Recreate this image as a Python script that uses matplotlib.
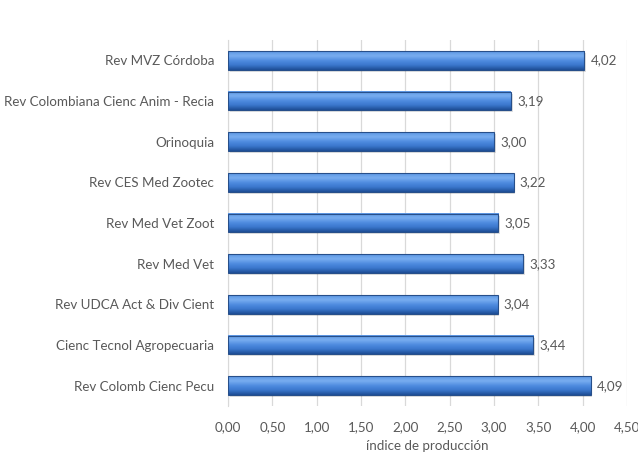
import numpy as np
import matplotlib.pyplot as plt
from matplotlib.colors import LinearSegmentedColormap

revistas = ['Rev Colomb Cienc Pecu', 'Cienc Tecnol Agropecuaria', 'Rev UDCA Act & Div Cient',
            'Rev Med Vet', 'Rev Med Vet Zoot', 'Rev CES Med Zootec', 'Orinoquia',
            'Rev Colombiana Cienc Anim - Recia', 'Rev MVZ Córdoba']
indice = [4.09, 3.44, 3.04, 3.33, 3.05, 3.22, 3.00, 3.19, 4.02]
xticks = [0, 0.5, 1.0, 1.5, 2.0, 2.5, 3.0, 3.5, 4.0, 4.5]

plt.rcParams['font.family'] = ['Lato', 'DejaVu Sans']
gris = '#595959'
fs = 9.6

fig = plt.figure(figsize=(6.38, 4.53), dpi=100)
ax = fig.add_axes([228 / 638, 1 - 406 / 453, (627 - 228) / 638, (406 - 40) / 453])

# degradado vertical del "bisel" de cada barra
cmap = LinearSegmentedColormap.from_list('bisel', ['#1d4d94', '#3a76cc', '#4f8ce0', '#79aef0', '#5d97e4'])
grad = np.linspace(0, 1, 64).reshape(-1, 1)
h = 0.46
for i, v in enumerate(indice):
    # sombra
    ax.add_patch(plt.Rectangle((0.02, i - h / 2 - 0.05), v, h, color='#000000', alpha=0.12, lw=0, zorder=2))
    ax.imshow(grad, cmap=cmap, aspect='auto', extent=(0, v, i - h / 2, i + h / 2),
              origin='lower', zorder=3, interpolation='bicubic')
    ax.add_patch(plt.Rectangle((0, i - h / 2), v, h, fill=False, ec='#274f8a', lw=0.8, zorder=4))
    ax.text(v + 0.07, i, f'{v:.2f}'.replace('.', ','), va='center', ha='left',
            fontsize=fs, color=gris)

ax.set_xlim(0, 4.5)
ax.set_ylim(-0.5, len(revistas) - 0.5)
ax.set_yticks(range(len(revistas)))
ax.set_yticklabels(revistas, fontsize=fs, color=gris)
ax.set_xticks(xticks)
ax.set_xticklabels([f'{t:.2f}'.replace('.', ',') for t in xticks], fontsize=fs, color=gris)
ax.tick_params(length=0, pad=11, axis='x')
ax.tick_params(length=0, pad=10, axis='y')
ax.grid(axis='x', color='#d9d9d9', lw=0.9, zorder=0)
ax.set_axisbelow(True)
for s in ['top', 'right', 'bottom']:
    ax.spines[s].set_visible(False)
ax.spines['left'].set_color('#d9d9d9')
ax.set_xlabel('índice de producción', fontsize=fs, color=gris, labelpad=5)

fig.savefig('out.png', dpi=100)
